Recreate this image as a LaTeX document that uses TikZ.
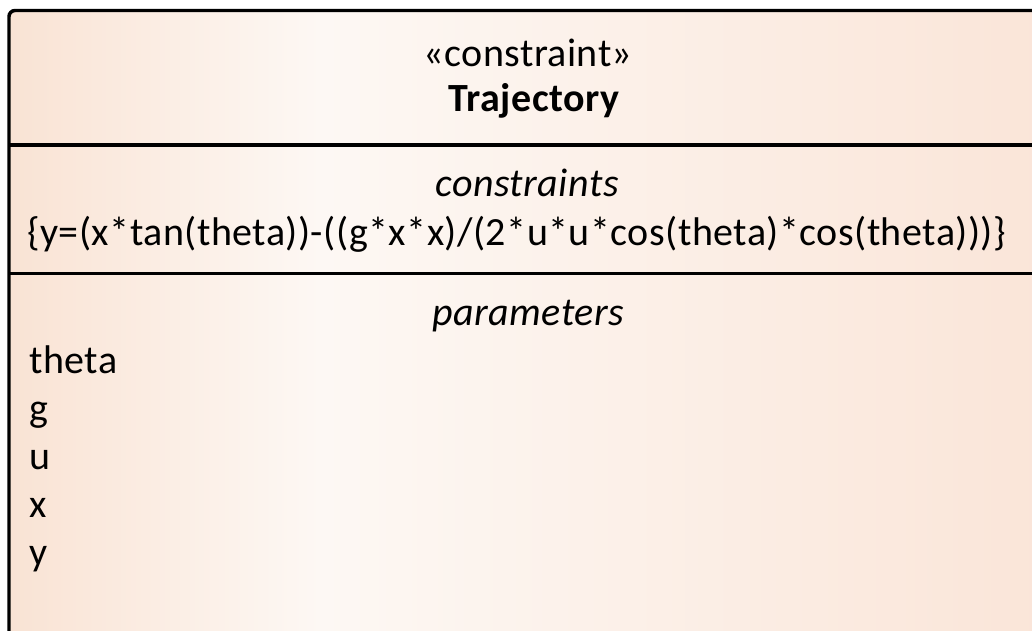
\documentclass[tikz,border=0pt]{standalone}
\usepackage{fontspec}
\setmainfont[LetterSpace=1.2]{Carlito}
\definecolor{pL}{RGB}{249,227,212}
\definecolor{pW}{RGB}{253,248,244}
\definecolor{pR}{RGB}{250,229,216}
\pgfdeclarehorizontalshading{boxshade}{100bp}{color(0bp)=(pL); color(25bp)=(pL); color(40bp)=(pW); color(75bp)=(pR); color(100bp)=(pR)}
\begin{document}
\begin{tikzpicture}[x=0.75pt,y=-0.75pt,
  txt/.style={font=\fontsize{30}{36}\selectfont, inner sep=0pt, anchor=base},
  rule/.style={line width=2.6pt, draw=black}]
\useasboundingbox (0,0) rectangle (1032,631);
\begin{scope}
\clip (0,0) rectangle (1032,631);
\path[shading=boxshade, rounded corners=4.5pt] (9,10.5) rectangle (1048,660);
\draw[rule, rounded corners=4.5pt] (9,10.5) rectangle (1048,660);
\coordinate (d1l) at (9,145);
\coordinate (d1r) at (1048,145);
\coordinate (d2l) at (9,273.5);
\coordinate (d2r) at (1048,273.5);
\draw[rule] (d1l) -- (d1r);
\draw[rule] (d2l) -- (d2r);
\end{scope}
\node[txt] (stereo) at (528,67) {«constraint»};
\node[txt] (name) at (534,112) {\bfseries Trajectory};
\node[txt] (chead) at (527,197) {\itshape constraints};
\node[txt, anchor=base west] (expr) at (27,245) {\{y=(x*tan(theta))-((g*x*x)/(2*u*u*cos(theta)*cos(theta)))\}};
\node[txt] (phead) at (528,325) {\itshape parameters};
\node[txt, anchor=base west] (p1) at (29,373) {theta};
\node[txt, anchor=base west] (p2) at (29,421) {g};
\node[txt, anchor=base west] (p3) at (29,469) {u};
\node[txt, anchor=base west] (p4) at (29,517) {x};
\node[txt, anchor=base west] (p5) at (29,565) {y};
\end{tikzpicture}
\end{document}
